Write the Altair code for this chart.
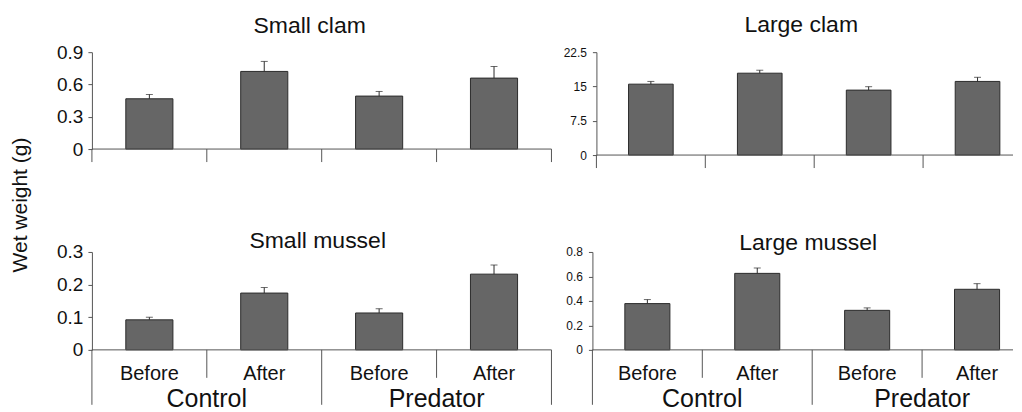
import altair as alt
import pandas as pd

# ---------------- data ----------------
groups = ["Control", "Control", "Predator", "Predator"]
periods = ["Before", "After", "Before", "After"]

titles = ["Small clam", "Large clam", "Small mussel", "Large mussel"]
y_title = "Wet weight (g)"

small_clam_mean = [0.467, 0.721, 0.492, 0.659]
small_clam_se = [0.040, 0.093, 0.043, 0.108]
large_clam_mean = [15.5, 17.9, 14.2, 16.1]
large_clam_se = [0.6, 0.65, 0.75, 0.9]
small_mussel_mean = [0.092, 0.174, 0.113, 0.232]
small_mussel_se = [0.008, 0.017, 0.013, 0.028]
large_mussel_mean = [0.378, 0.625, 0.323, 0.495]
large_mussel_se = [0.033, 0.044, 0.020, 0.046]

small_clam_ticks = [0, 0.3, 0.6, 0.9]
large_clam_ticks = [0, 7.5, 15, 22.5]
small_mussel_ticks = [0, 0.1, 0.2, 0.3]
large_mussel_ticks = [0, 0.2, 0.4, 0.6, 0.8]

# ---------------- style ----------------
FONT = "Liberation Sans"
BAR = "#666666"
EDGE = "#2b2b2b"
AXIS = "#555555"
TXT = "#111111"

keys = [f"{g} {p}" for g, p in zip(groups, periods)]


def panel(title, means, ses, ticks, w, h, span, tick_fs, tick_pad,
          title_x, title_y, bottom, right, ylab=False):
    df = pd.DataFrame({
        "key": keys,
        "group": groups,
        "period": periods,
        "mean": means,
        "upper": [m + s for m, s in zip(means, ses)],
        "idx": list(range(4)),
    })
    xscale = alt.Scale(domain=keys, range=[0, span], paddingInner=0, paddingOuter=0)
    x = alt.X("key:N", scale=xscale, axis=None, sort=keys)
    yscale = alt.Scale(domain=[ticks[0], ticks[-1]], nice=False, zero=True)
    ax = alt.Axis(
        values=ticks, title=None, labelExpr="datum.value + ''",
        grid=False, domainColor=AXIS, tickColor=AXIS, tickSize=4,
        labelFont=FONT, labelFontSize=tick_fs, labelColor=TXT,
        labelPadding=tick_pad, domainWidth=1, tickWidth=1,
        labelOverlap=False, labelFlush=False, labelBound=False, tickCount=len(ticks))
    base = alt.Chart(df)

    bars = base.mark_bar(
        width=alt.RelativeBandSize(0.41), fill=BAR, stroke=EDGE, strokeWidth=1
    ).encode(x=x, y=alt.Y("mean:Q", scale=yscale, axis=ax))
    err = base.mark_rule(color=EDGE, strokeWidth=1).encode(
        x=x, y=alt.Y("mean:Q", scale=yscale, axis=ax), y2="upper:Q")
    cap = base.mark_tick(color=EDGE, size=7, thickness=1, orient="horizontal").encode(
        x=x, y=alt.Y("upper:Q", scale=yscale, axis=ax))
    zero = alt.Chart(pd.DataFrame({"z": [0]})).mark_rule(color=AXIS, strokeWidth=1).encode(
        y=alt.Y("z:Q", scale=yscale, axis=ax))

    layers = [bars, err, cap, zero]

    if bottom:
        long_len, short_len = 55, 28
    else:
        long_len, short_len = 13, 13

    xs0 = alt.X("key:N", scale=xscale, axis=None, sort=keys, bandPosition=0)
    xs1 = alt.X("key:N", scale=xscale, axis=None, sort=keys, bandPosition=1)
    sep_long = base.transform_filter("datum.idx % 2 == 0").mark_rule(
        color=AXIS, strokeWidth=1).encode(x=xs0, y=alt.value(h), y2=alt.value(h + long_len))
    sep_short = base.transform_filter("datum.idx % 2 == 1").mark_rule(
        color=AXIS, strokeWidth=1).encode(x=xs0, y=alt.value(h), y2=alt.value(h + short_len))
    layers += [sep_long, sep_short]
    if not right:
        sep_end = base.transform_filter("datum.idx == 3").mark_rule(
            color=AXIS, strokeWidth=1).encode(x=xs1, y=alt.value(h), y2=alt.value(h + long_len))
        layers.append(sep_end)

    if bottom:
        per = base.mark_text(font=FONT, fontSize=20, color=TXT, baseline="alphabetic",
                             align="center").encode(x=x, y=alt.value(h + 30), text="period:N")
        grp = base.transform_filter("datum.period == 'After'").mark_text(
            font=FONT, fontSize=25, color=TXT, baseline="alphabetic", align="center"
        ).encode(x=xs0, y=alt.value(h + 57), text="group:N")
        layers += [per, grp]

    ttl = alt.Chart(pd.DataFrame({"t": [title]})).mark_text(
        font=FONT, fontSize=23, color=TXT, baseline="alphabetic", align="center"
    ).encode(x=alt.value(title_x), y=alt.value(title_y), text="t:N")
    layers.append(ttl)

    if ylab:
        yl = alt.Chart(pd.DataFrame({"t": [y_title]})).mark_text(
            font=FONT, fontSize=21, color=TXT, baseline="alphabetic", align="center", angle=270
        ).encode(x=alt.value(-65), y=alt.value(153), text="t:N")
        layers.append(yl)

    return alt.layer(*layers).properties(width=w, height=h)


tl = panel(titles[0], small_clam_mean, small_clam_se, small_clam_ticks,
           460, 97, 460, 19, 5, 218, -19, False, False, ylab=True)
tr = panel(titles[1], large_clam_mean, large_clam_se, large_clam_ticks,
           417, 103, 436, 12, 6, 205, -20, False, True)
bl = panel(titles[2], small_mussel_mean, small_mussel_se, small_mussel_ticks,
           460, 98, 460, 19, 5, 226, -4, True, False)
br = panel(titles[3], large_mussel_mean, large_mussel_se, large_mussel_ticks,
           421, 98, 440, 12, 6, 216, -2, True, True)

top = alt.hconcat(tl, tr, spacing=45, bounds="flush")
bot = alt.hconcat(bl, br, spacing=41, bounds="flush")

chart = alt.vconcat(top, bot, spacing=200, bounds="flush").properties(
    padding={"left": 2, "top": 6, "right": 0, "bottom": 0},
    background="white",
).configure_view(stroke=None)

chart.save("out.html", embed_options={"renderer": "svg", "actions": False})
